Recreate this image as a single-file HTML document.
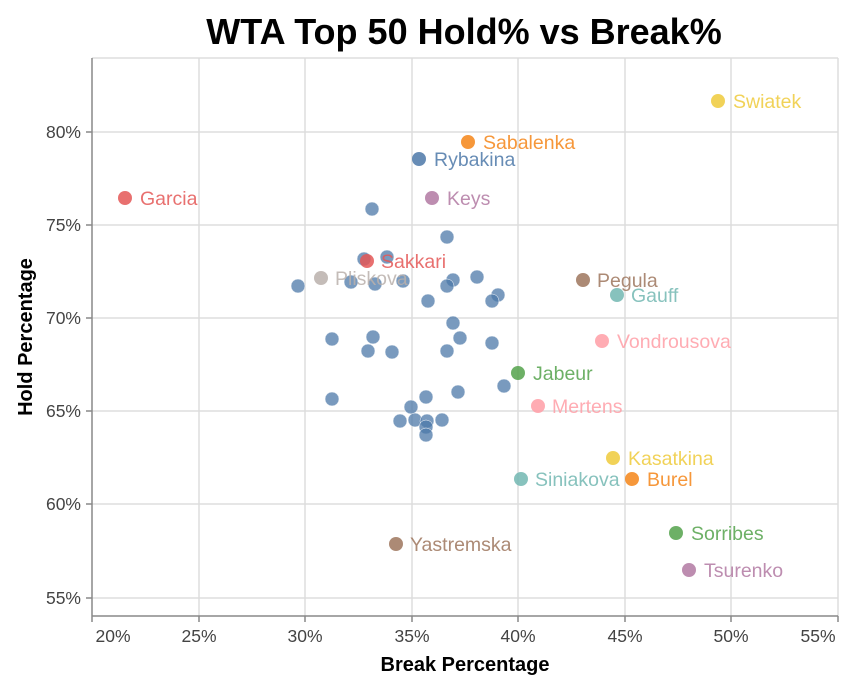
<!DOCTYPE html><html><head><style>body{margin:0;background:#fff}svg{font-family:"Liberation Sans",Arial,sans-serif}</style></head><body>
<svg width="868" height="687" viewBox="0 0 868 687">
<text x="464" y="44" text-anchor="middle" font-size="36" font-weight="bold">WTA Top 50 Hold% vs Break%</text>
<g stroke="#ddd" stroke-width="1.5">
<line x1="92" y1="58" x2="838" y2="58"/>
<line x1="199" y1="58" x2="199" y2="616"/><line x1="305" y1="58" x2="305" y2="616"/><line x1="412" y1="58" x2="412" y2="616"/><line x1="518" y1="58" x2="518" y2="616"/><line x1="625" y1="58" x2="625" y2="616"/><line x1="731" y1="58" x2="731" y2="616"/><line x1="838" y1="58" x2="838" y2="616"/>
<line x1="92" y1="132" x2="838" y2="132"/><line x1="92" y1="225" x2="838" y2="225"/><line x1="92" y1="318" x2="838" y2="318"/><line x1="92" y1="411" x2="838" y2="411"/><line x1="92" y1="504" x2="838" y2="504"/><line x1="92" y1="598" x2="838" y2="598"/>
</g>
<g stroke="#888" stroke-width="1.5">
<line x1="92" y1="58" x2="92" y2="616"/><line x1="92" y1="616" x2="838" y2="616"/>
<line x1="86" y1="132" x2="92" y2="132"/><line x1="86" y1="225" x2="92" y2="225"/><line x1="86" y1="318" x2="92" y2="318"/><line x1="86" y1="411" x2="92" y2="411"/><line x1="86" y1="504" x2="92" y2="504"/><line x1="86" y1="598" x2="92" y2="598"/>
<line x1="92" y1="616" x2="92" y2="622"/><line x1="199" y1="616" x2="199" y2="622"/><line x1="305" y1="616" x2="305" y2="622"/><line x1="412" y1="616" x2="412" y2="622"/><line x1="518" y1="616" x2="518" y2="622"/><line x1="625" y1="616" x2="625" y2="622"/><line x1="731" y1="616" x2="731" y2="622"/><line x1="838" y1="616" x2="838" y2="622"/>
</g>
<g font-size="17.5" fill="#444" text-anchor="end">
<text x="81" y="138">80%</text><text x="81" y="231">75%</text><text x="81" y="324">70%</text><text x="81" y="417">65%</text><text x="81" y="510">60%</text><text x="81" y="604">55%</text>
</g>
<g font-size="17.5" fill="#444" text-anchor="middle">
<text x="113" y="642">20%</text><text x="199" y="642">25%</text><text x="305" y="642">30%</text><text x="412" y="642">35%</text><text x="518" y="642">40%</text><text x="625" y="642">45%</text><text x="731" y="642">50%</text><text x="818" y="642">55%</text>
</g>
<text x="465" y="671" text-anchor="middle" font-size="20" font-weight="bold">Break Percentage</text>
<text transform="translate(32,337) rotate(-90)" text-anchor="middle" font-size="20" font-weight="bold">Hold Percentage</text>
<g fill="#4c78a8" fill-opacity="0.75" stroke="#fff" stroke-width="0.5">
<circle cx="372" cy="209" r="7"/><circle cx="447" cy="237" r="7"/><circle cx="364" cy="259" r="7"/><circle cx="387" cy="257" r="7"/><circle cx="298" cy="286" r="7"/><circle cx="351" cy="282" r="7"/><circle cx="375" cy="284" r="7"/><circle cx="403" cy="281" r="7"/><circle cx="453" cy="280" r="7"/><circle cx="447" cy="286" r="7"/><circle cx="477" cy="277" r="7"/><circle cx="498" cy="295" r="7"/><circle cx="492" cy="301" r="7"/><circle cx="428" cy="301" r="7"/><circle cx="453" cy="323" r="7"/><circle cx="460" cy="338" r="7"/><circle cx="492" cy="343" r="7"/><circle cx="447" cy="351" r="7"/><circle cx="332" cy="339" r="7"/><circle cx="373" cy="337" r="7"/><circle cx="368" cy="351" r="7"/><circle cx="392" cy="352" r="7"/><circle cx="504" cy="386" r="7"/><circle cx="458" cy="392" r="7"/><circle cx="426" cy="397" r="7"/><circle cx="332" cy="399" r="7"/><circle cx="411" cy="407" r="7"/><circle cx="400" cy="421" r="7"/><circle cx="415" cy="420" r="7"/><circle cx="427" cy="421" r="7"/><circle cx="442" cy="420" r="7"/><circle cx="426" cy="427" r="7"/><circle cx="426" cy="435" r="7"/>
</g>
<g font-size="19.5" fill-opacity="0.85">
<circle cx="718" cy="101" r="7" fill="#eeca3b"/><text x="733" y="108" fill="#eeca3b">Swiatek</text>
<circle cx="468" cy="142" r="7" fill="#f58518"/><text x="483" y="149" fill="#f58518">Sabalenka</text>
<circle cx="419" cy="159" r="7" fill="#4c78a8"/><text x="434" y="166" fill="#4c78a8">Rybakina</text>
<circle cx="125" cy="198" r="7" fill="#e45756"/><text x="140" y="205" fill="#e45756">Garcia</text>
<circle cx="432" cy="198" r="7" fill="#b279a2"/><text x="447" y="205" fill="#b279a2">Keys</text>
<circle cx="321" cy="278" r="7" fill="#bab0ac"/><text x="335" y="285" fill="#bab0ac">Pliskova</text>
<circle cx="367" cy="261" r="7" fill="#e45756"/><text x="381" y="268" fill="#e45756">Sakkari</text>
<circle cx="583" cy="280" r="7" fill="#9d755d"/><text x="597" y="287" fill="#9d755d">Pegula</text>
<circle cx="617" cy="295" r="7" fill="#72b7b2"/><text x="631" y="302" fill="#72b7b2">Gauff</text>
<circle cx="602" cy="341" r="7" fill="#ff9da6"/><text x="617" y="348" fill="#ff9da6">Vondrousova</text>
<circle cx="518" cy="373" r="7" fill="#54a24b"/><text x="533" y="380" fill="#54a24b">Jabeur</text>
<circle cx="538" cy="406" r="7" fill="#ff9da6"/><text x="552" y="413" fill="#ff9da6">Mertens</text>
<circle cx="613" cy="458" r="7" fill="#eeca3b"/><text x="628" y="465" fill="#eeca3b">Kasatkina</text>
<circle cx="521" cy="479" r="7" fill="#72b7b2"/><text x="535" y="486" fill="#72b7b2">Siniakova</text>
<circle cx="632" cy="479" r="7" fill="#f58518"/><text x="647" y="486" fill="#f58518">Burel</text>
<circle cx="676" cy="533" r="7" fill="#54a24b"/><text x="691" y="540" fill="#54a24b">Sorribes</text>
<circle cx="396" cy="544" r="7" fill="#9d755d"/><text x="410" y="551" fill="#9d755d">Yastremska</text>
<circle cx="689" cy="570" r="7" fill="#b279a2"/><text x="704" y="577" fill="#b279a2">Tsurenko</text>
</g>
</svg></body></html>
